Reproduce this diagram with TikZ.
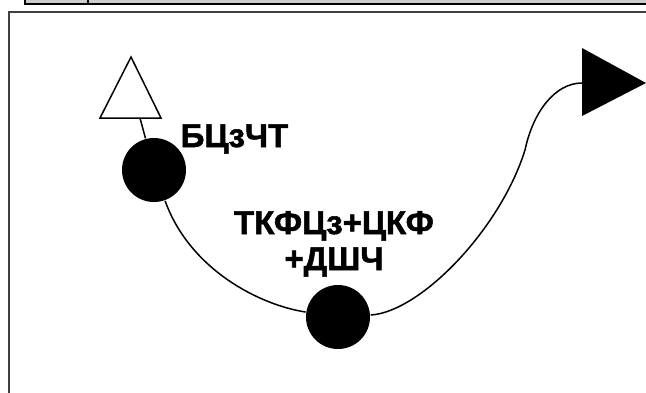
\documentclass[tikz,border=0pt]{standalone}
\usepackage{fontspec}
\setmainfont{Liberation Sans}
\newfontfamily\heavyfont{Liberation Sans Bold}[FakeBold=1.6]
\usetikzlibrary{positioning}

\begin{document}
\begin{tikzpicture}[
    x=0.5pt, y=-0.5pt,
    font=\fontsize{16.5}{18}\selectfont\heavyfont,
    line width=0.75pt,
    stage/.style={circle, fill=black, minimum size=32pt, inner sep=0pt},
    stagelabel/.style={inner sep=0pt, align=center},
    frameline/.style={draw=black!75, line width=1.1pt},
    topbar/.style={draw=black, fill=black!20, line width=1pt}
]
\useasboundingbox (0,0) rectangle (646,392);

\draw[topbar] (25,-20) rectangle (700,3.5);
\draw[line width=1pt] (88,-20) -- (88,3.5);
\draw[frameline] (9,12) rectangle (660,400);

\draw[fill=white] (100,118) -- (131,57) -- (161,118) -- cycle;
\fill (582,48) -- (646,83) -- (582,116) -- cycle;
\coordinate (srcbase) at (140,118);
\coordinate (sinkbase) at (582,83);
\coordinate (bend) at (525,150);

\node[stage] (c1) at (154,170) {};
\node[stage] (c2) at (338,317) {};

\node[stagelabel, anchor=base west] (lab1) at (180,147) {БЦзЧТ};
\node[stagelabel, anchor=base] (lab2) at (334,270) {ТКФЦз+ЦКФ\\[0pt]+ДШЧ};

\draw (srcbase) -- (c1);
\draw (c1) .. controls (190,270) and (260,305) .. (c2);
\draw (c2) .. controls (420,312) and (500,230) .. (bend)
      .. controls (533,112) and (555,83) .. (sinkbase);
\end{tikzpicture}
\end{document}
